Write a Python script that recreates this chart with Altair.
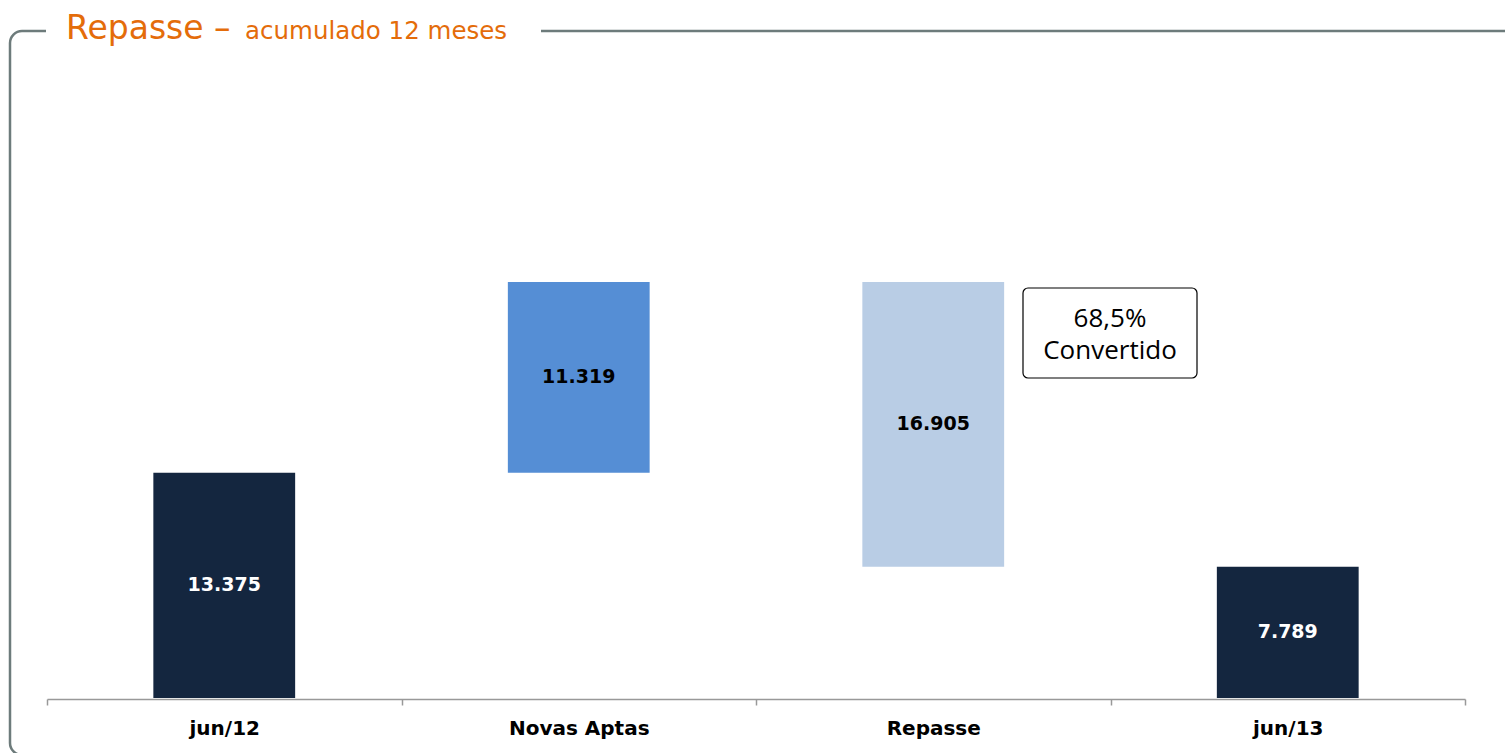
import altair as alt
import pandas as pd

# ---- data ----
categories = ["jun/12", "Novas Aptas", "Repasse", "jun/13"]
values = [13375, 11319, -16905, 7789]
value_labels = ["13.375", "11.319", "16.905", "7.789"]
kinds = ["total", "increase", "decrease", "total"]

kind_domain = ["total", "increase", "decrease"]
kind_colors = ["#14263F", "#558ED5", "#B9CDE5"]

# waterfall start / end computed from the values
starts, ends = [], []
running = 0
for v, k in zip(values, kinds):
    if k == "total":
        s, e = 0, v
    else:
        s, e = running, running + v
    starts.append(s)
    ends.append(e)
    running = e

df = pd.DataFrame({
    "cat": categories,
    "start": starts,
    "end": ends,
    "mid": [(s + e) / 2 for s, e in zip(starts, ends)],
    "label": value_labels,
    "kind": kinds,
})

ORANGE = "#E46C0A"
FRAME = "#6D7B7B"
LEFT = 47

x_scale = alt.Scale(paddingInner=0, paddingOuter=0)
x_enc = alt.X(
    "cat:N",
    sort=categories,
    scale=x_scale,
    axis=alt.Axis(
        title=None, labelAngle=0, labelFont="DejaVu Sans", labelFontWeight="bold",
        labelFontSize=20, labelColor="black", domainColor="#999999", domainWidth=1.5,
        tickColor="#999999", tickWidth=1.5, tickSize=6, tickBand="extent",
        labelPadding=13, offset=1, grid=False,
    ),
)
y_scale = alt.Scale(domain=[0, 41434])

base = alt.Chart(df)
bars = base.mark_bar(width=alt.RelativeBandSize(0.4)).encode(
    x=x_enc,
    y=alt.Y("start:Q", scale=y_scale, axis=None),
    y2="end:Q",
    color=alt.Color("kind:N", scale=alt.Scale(domain=kind_domain, range=kind_colors), legend=None),
)
labels = base.mark_text(font="DejaVu Sans", fontWeight="bold", fontSize=19, baseline="middle").encode(
    x=alt.X("cat:N", sort=categories),
    y=alt.Y("mid:Q", scale=y_scale),
    text="label:N",
    color=alt.condition(alt.datum.kind == "total", alt.value("white"), alt.value("black")),
)

dummy = alt.Chart(pd.DataFrame({"a": [0]}))

frame = dummy.mark_rect(fill=None, stroke=FRAME, strokeWidth=2.5, cornerRadius=12).encode(
    x=alt.value(10 - LEFT), x2=alt.value(1540 - LEFT), y=alt.value(31), y2=alt.value(755)
)
gap = dummy.mark_rect(fill="white").encode(
    x=alt.value(46 - LEFT), x2=alt.value(541 - LEFT), y=alt.value(24), y2=alt.value(38)
)
title_big = dummy.mark_text(text="Repasse –", font="DejaVu Sans", fontSize=33, color=ORANGE,
                            align="left", baseline="alphabetic").encode(
    x=alt.value(66 - LEFT), y=alt.value(39)
)
title_small = dummy.mark_text(text="acumulado 12 meses", font="DejaVu Sans", fontSize=24.5, color=ORANGE,
                              align="left", baseline="alphabetic").encode(
    x=alt.value(245 - LEFT), y=alt.value(39)
)

box = dummy.mark_rect(fill="white", stroke="black", strokeWidth=1.2, cornerRadius=5).encode(
    x=alt.value(1023 - LEFT), x2=alt.value(1197 - LEFT), y=alt.value(288), y2=alt.value(378)
)
box_t1 = dummy.mark_text(text="68,5%", font="Open Sans", fontSize=26, color="black",
                         align="center", baseline="alphabetic").encode(
    x=alt.value(1110 - LEFT), y=alt.value(327)
)
box_t2 = dummy.mark_text(text="Convertido", font="Open Sans", fontSize=26, color="black",
                         align="center", baseline="alphabetic").encode(
    x=alt.value(1110 - LEFT), y=alt.value(359)
)

chart = alt.layer(
    frame, gap, title_big, title_small, bars, labels, box, box_t1, box_t2
).properties(
    width=1418, height=698,
    padding={"left": LEFT, "top": 0, "right": 40, "bottom": 55},
    autosize="none", background="white",
).configure_view(stroke=None)

chart.save("out.html", embed_options={"renderer": "svg", "actions": False})
